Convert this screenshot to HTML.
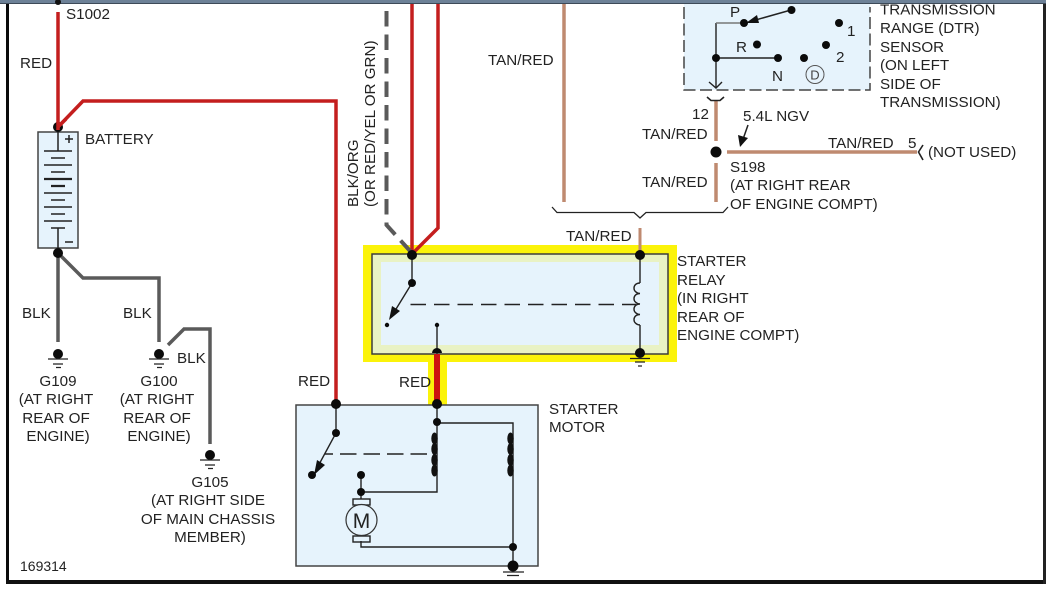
<!DOCTYPE html>
<html>
<head>
<meta charset="utf-8">
<style>
html,body{margin:0;padding:0;background:#fff;width:1046px;height:592px;overflow:hidden}
svg{display:block}
text{font-family:"Liberation Sans",sans-serif;font-size:15.2px;fill:#222}
.m{text-anchor:middle}
</style>
</head>
<body>
<svg width="1046" height="592" viewBox="0 0 1046 592" xmlns="http://www.w3.org/2000/svg">
<rect width="1046" height="592" fill="#fff"/>

<!-- relay highlight -->
<rect x="363" y="245" width="314" height="117" fill="#fbf30a"/>
<rect x="428" y="360" width="19" height="46" fill="#fbf30a"/>
<rect x="372" y="254" width="296" height="100" fill="#e9f2c4" stroke="#3c3c3c" stroke-width="1.5"/>
<rect x="381" y="262" width="278" height="83" fill="#e6f3fc"/>

<!-- boxes -->
<rect x="38" y="132" width="40" height="116" fill="#e6f3fc" stroke="#444" stroke-width="1.5"/>
<rect x="296" y="405" width="242" height="161" fill="#e6f3fc" stroke="#444" stroke-width="1.5"/>
<rect x="684" y="3" width="186" height="87" fill="#e6f3fc"/>
<path d="M684 7V90H870V7" fill="none" stroke="#444" stroke-width="1.5" stroke-dasharray="12 4.5"/>

<!-- battery -->
<g stroke="#222" stroke-width="1.5" fill="none">
<path d="M58 132V151M44 151H72M51 158H65M44 165H72M51 172H65M51 200H65M44 193H72M44 207H72M51 214H65M44 221H72M51 228H65M58 228V248"/>
<path d="M44 179H72M51 186H65" stroke-width="2.2"/>
<path d="M65 139H73M69 135V143M65 242H73"/>
</g>

<!-- red wires -->
<g fill="none" stroke="#c41e1e" stroke-width="3.5">
<path d="M58 12V127"/>
<path d="M58 127L83 101H336V404"/>
<path d="M412 3V255"/>
<path d="M438 3V228L412 254"/>
</g>
<path d="M437 354V404" stroke="#cc1410" stroke-width="6" fill="none"/>

<!-- gray wires -->
<g fill="none" stroke="#5a5a5a" stroke-width="3.5">
<path d="M58 253V342"/>
<path d="M58 253L83 278H159V342"/>
<path d="M168 345L184 329H210V444"/>
</g>
<path d="M386.5 11V225L411 252" fill="none" stroke="#5a5a5a" stroke-width="4" stroke-dasharray="15.5 8"/>

<!-- tan wires -->
<g fill="none" stroke="#bf8a70" stroke-width="3.5">
<path d="M564 3V202"/>
<path d="M640 228V252" stroke-width="3"/>
<path d="M716 101V141"/>
<path d="M716 163V202"/>
<path d="M727 152H917"/>
</g>

<!-- bracket and connectors -->
<g fill="none" stroke="#222" stroke-width="1.3">
<path d="M552 207L557 212.5H634L640 218L646 212.5H723L728 207"/>
<path d="M707 97L711 100.5H720L724 97" stroke-width="1.6"/>
<path d="M923 145L918.5 152L923 160" stroke-width="1.6"/>
<path d="M709 82L716 88L722 82" stroke-width="1.4"/>
<path d="M716 23V88M716 58H778" stroke-width="1.4"/>
<path d="M716 23H744" stroke="#777" stroke-width="1.4"/>
<path d="M791 10L752 21" stroke-width="1.5"/>
<path d="M748 125L741 145" stroke-width="1.5"/>
</g>
<path d="M746 23L757 15L759 23Z" fill="#111"/>
<path d="M740 147L738 135L748 138Z" fill="#111"/>

<!-- relay internals -->
<g fill="none" stroke="#222" stroke-width="1.4">
<path d="M412 255V283L393 314"/>
<path d="M437 325V354"/>
<path d="M640 255V283M640 325V353"/>
<path d="M640 283c-8 0 -8 10 0 10.500c-8 0 -8 10 0 10.500c-8 0 -8 10 0 10.500c-8 0 -8 10 0 10.500"/>
<path d="M410.500 304.500H636" stroke-dasharray="15.500 8"/>
</g>
<path d="M389 320L392 306L400 311Z" fill="#111"/>

<!-- motor internals -->
<g fill="none" stroke="#222" stroke-width="1.4">
<path d="M336 404V433L316 470"/>
<path d="M325 454H433" stroke-dasharray="16.500 7" stroke-dashoffset="8.500"/>
<path d="M437 404V492H361"/>
<path d="M361 475V499"/>
<path d="M437 423H513V566"/>
<path d="M361 541V547H513"/>
<rect x="353" y="499" width="17" height="6"/>
<rect x="353" y="536" width="17" height="6"/>
<circle cx="361.500" cy="520" r="15.500" fill="#e6f3fc" stroke="#333" stroke-width="1.2"/>
</g>
<g fill="#111">
<ellipse cx="434.500" cy="438.500" rx="3.200" ry="6"/><ellipse cx="434.500" cy="449" rx="3.200" ry="6"/><ellipse cx="434.500" cy="460" rx="3.200" ry="6"/><ellipse cx="434.500" cy="470.500" rx="3.200" ry="6"/>
<ellipse cx="510.500" cy="438.500" rx="3.200" ry="6"/><ellipse cx="510.500" cy="449" rx="3.200" ry="6"/><ellipse cx="510.500" cy="460" rx="3.200" ry="6"/><ellipse cx="510.500" cy="470.500" rx="3.200" ry="6"/>
<path d="M314 475L317 460L325 465Z"/>
</g>

<!-- nodes -->
<g fill="#0b0b0b">
<circle cx="58" cy="253" r="5"/>
<circle cx="336" cy="404" r="5"/>
<circle cx="437" cy="404" r="5"/>
<circle cx="336" cy="433" r="4"/>
<circle cx="312" cy="475" r="4"/>
<circle cx="437" cy="422" r="4"/>
<circle cx="361" cy="492" r="4"/>
<circle cx="361" cy="475" r="4"/>
<circle cx="513" cy="547" r="4"/>
<circle cx="513" cy="566" r="5.500"/>
<circle cx="412" cy="255" r="5"/>
<circle cx="412" cy="283" r="4"/>
<circle cx="387" cy="325" r="2.200"/>
<circle cx="437" cy="325" r="2.200"/>
<circle cx="640" cy="255" r="5"/>
<circle cx="640" cy="353" r="5"/>
<circle cx="716" cy="152" r="5.500"/>
<circle cx="744" cy="23" r="4"/>
<circle cx="791.500" cy="10" r="4"/>
<circle cx="716" cy="58" r="4"/>
<circle cx="778" cy="58" r="4"/>
<circle cx="757" cy="44.500" r="4"/>
<circle cx="804" cy="58" r="4"/>
<circle cx="839" cy="23" r="4"/>
<circle cx="826" cy="45" r="4"/>
<circle cx="58" cy="354" r="5"/>
<circle cx="159" cy="354" r="5"/>
<circle cx="210" cy="455" r="5"/>
</g>
<circle cx="58" cy="127" r="5" fill="#0b0b0b"/>
<path d="M58 127L66 119" stroke="#c41e1e" stroke-width="3.500"/>
<path d="M58 122V130" stroke="#c41e1e" stroke-width="3.500"/>
<path d="M432 353a5 5 0 0 1 10 0Z" fill="#0b0b0b"/>

<!-- grounds -->
<g stroke="#222" stroke-width="1.2" fill="none">
<path d="M48 359H68M53 364H63M56 367.500H61"/>
<path d="M149 359H169M154 364H164M157 367.500H162"/>
<path d="M200 460H220M205 465H215M208 468.500H213"/>
<path d="M503 572H524M507 575.500H519"/>
<path d="M630 358.500H650M635 362H645M638 366H642"/>
</g>

<circle cx="815" cy="74.500" r="9" fill="none" stroke="#555" stroke-width="1"/>

<!-- labels -->
<text x="66" y="19">S1002</text>
<text x="20" y="68">RED</text>
<text x="85" y="144">BATTERY</text>
<text x="22" y="318">BLK</text>
<text x="123" y="318">BLK</text>
<text x="177" y="363">BLK</text>
<text x="58" y="386" class="m">G109</text>
<text x="56" y="404" class="m">(AT RIGHT</text>
<text x="56" y="423" class="m">REAR OF</text>
<text x="58" y="441" class="m">ENGINE)</text>
<text x="159" y="386" class="m">G100</text>
<text x="157" y="404" class="m">(AT RIGHT</text>
<text x="157" y="423" class="m">REAR OF</text>
<text x="159" y="441" class="m">ENGINE)</text>
<text x="210" y="487" class="m">G105</text>
<text x="208" y="505" class="m">(AT RIGHT SIDE</text>
<text x="208" y="524" class="m">OF MAIN CHASSIS</text>
<text x="210" y="542" class="m">MEMBER)</text>
<text x="20" y="571" style="font-size:14px">169314</text>
<text x="298" y="386">RED</text>
<text x="399" y="387">RED</text>
<text x="549" y="414">STARTER</text>
<text x="549" y="432">MOTOR</text>
<text x="361.500" y="528" class="m" style="font-size:21px">M</text>
<text transform="translate(358 207) rotate(-90)">BLK/ORG</text>
<text transform="translate(375 207) rotate(-90)">(OR RED/YEL OR GRN)</text>
<text x="488" y="65">TAN/RED</text>
<text x="566" y="241">TAN/RED</text>
<text x="642" y="139">TAN/RED</text>
<text x="642" y="187">TAN/RED</text>
<text x="677" y="266">STARTER</text>
<text x="677" y="285">RELAY</text>
<text x="677" y="303">(IN RIGHT</text>
<text x="677" y="322">REAR OF</text>
<text x="677" y="340">ENGINE COMPT)</text>
<text x="692" y="119">12</text>
<text x="743" y="121">5.4L NGV</text>
<text x="828" y="148">TAN/RED</text>
<text x="908" y="148">5</text>
<text x="928" y="157">(NOT USED)</text>
<text x="730" y="172">S198</text>
<text x="730" y="190">(AT RIGHT REAR</text>
<text x="730" y="209">OF ENGINE COMPT)</text>
<text x="880" y="14.500">TRANSMISSION</text>
<text x="880" y="33">RANGE (DTR)</text>
<text x="880" y="52">SENSOR</text>
<text x="880" y="70">(ON LEFT</text>
<text x="880" y="89">SIDE OF</text>
<text x="880" y="107">TRANSMISSION)</text>
<text x="730" y="17">P</text>
<text x="736" y="52">R</text>
<text x="772" y="81">N</text>
<text x="847" y="36">1</text>
<text x="836" y="62">2</text>
<text x="815" y="79.500" class="m" style="font-size:13px;fill:#444">D</text>

<!-- frame -->
<rect x="6" y="3" width="3" height="581" fill="#0a0a0a"/>
<rect x="6" y="580" width="1037" height="4" fill="#111"/>
<rect x="1043" y="3" width="3" height="581" fill="#222"/>
<rect x="0" y="0" width="1046" height="3" fill="#6d8197"/>
<rect x="0" y="3" width="1046" height="1" fill="#3d4a58"/>
<circle cx="58" cy="2" r="3" fill="#111"/>
</svg>
</body>
</html>
